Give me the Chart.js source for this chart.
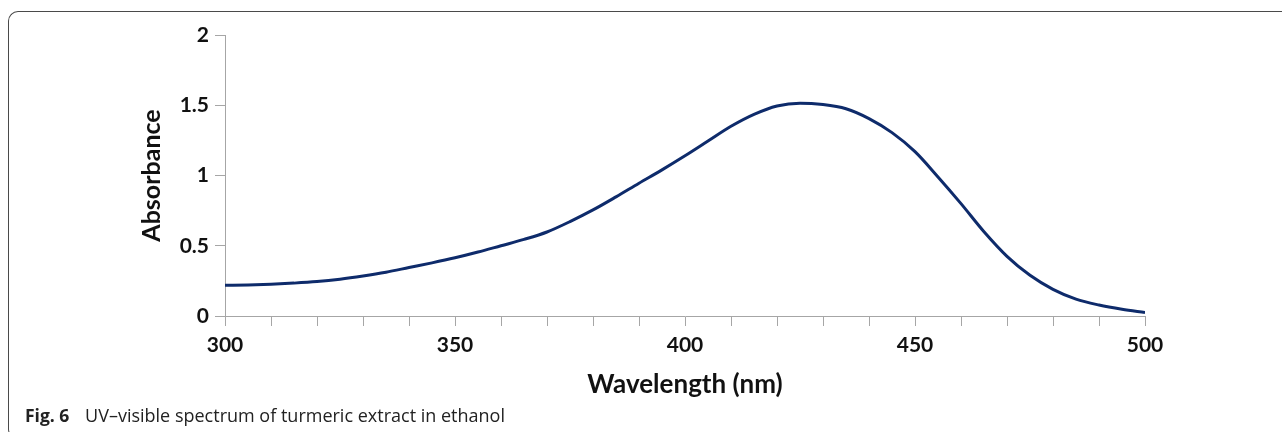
<!DOCTYPE html>
<html>
<head>
<meta charset="utf-8">
<script src="https://cdn.jsdelivr.net/npm/chart.js@4"></script>
<style>
    html, body { margin: 0; padding: 0; background: #fff; overflow: hidden; }
    body { width: 1282px; height: 432px; position: relative; }
    #frame {
        position: absolute; left: 8px; top: 11px; width: 1320px; height: 426px;
        border-top: 1.5px solid #4a4a4a; border-left: 1.5px solid #4a4a4a;
        border-bottom: 1.5px solid #4a4a4a;
        border-radius: 10px 0 0 10px;
    }
    #wrap { position: absolute; left: 0; top: 0; width: 1282px; height: 432px; }
    #caption {
        position: absolute; left: 25px; top: 403px;
        font-family: "Open Sans", sans-serif; font-size: 18px; color: #222;
        white-space: nowrap;
    }
    #caption b { font-size: 17.5px; margin-right: 11px; }
</style>
</head>
<body>
<div id="frame"></div>
<div id="wrap"><canvas id="spectrum"></canvas></div>
<div id="caption"><b>Fig. 6</b> UV–visible spectrum of turmeric extract in ethanol</div>
<script>
// wavelength (nm) and absorbance
const wavelengths = [300, 305, 310, 315, 320, 325, 330, 335, 340, 345, 350, 355, 360, 365, 370,
    375, 380, 385, 390, 395, 400, 405, 410, 415, 420, 425, 430, 435, 440, 445, 450,
    455, 460, 465, 470, 475, 480, 485, 490, 495, 500];
const absorbance = [0.218, 0.221, 0.226, 0.234, 0.245, 0.262, 0.285, 0.312, 0.345, 0.378, 0.414,
    0.455, 0.5, 0.545, 0.598, 0.672, 0.755, 0.848, 0.945, 1.04, 1.14, 1.245, 1.35, 1.435,
    1.495, 1.515, 1.505, 1.475, 1.405, 1.305, 1.17, 0.99, 0.8, 0.6, 0.425, 0.29, 0.19, 0.12,
    0.078, 0.048, 0.025];
const xTickLabels = [300, 350, 400, 450, 500];
const yTickLabels = [0, 0.5, 1, 1.5, 2];

const axisColor = '#a6a6a6';
const tickFont = { family: 'Lato', size: 21, weight: 'bold' };
const titleFont = { family: 'Lato', size: 25, weight: 'bold' };

const points = wavelengths.map((w, i) => ({ x: w, y: absorbance[i] }));

new Chart(document.getElementById('spectrum'), {
    type: 'line',
    data: {
        datasets: [{
            data: points,
            borderColor: '#0e2b6b',
            borderWidth: 3,
            pointRadius: 0,
            cubicInterpolationMode: 'monotone',
            fill: false
        }]
    },
    options: {
        responsive: true,
        maintainAspectRatio: false,
        animation: false,
        layout: { padding: { left: 130, top: 35, right: 137, bottom: 16 } },
        plugins: { legend: { display: false }, tooltip: { enabled: false } },
        scales: {
            x: {
                type: 'linear',
                min: 300,
                max: 500,
                afterFit: s => { s.height = 100; },
                border: { color: axisColor, width: 1 },
                grid: { drawOnChartArea: false, tickLength: 10, color: axisColor },
                ticks: {
                    stepSize: 10,
                    autoSkip: false,
                    maxRotation: 0,
                    padding: 7,
                    color: '#111',
                    font: tickFont,
                    callback: v => xTickLabels.includes(v) ? String(v) : ''
                },
                title: {
                    display: true,
                    text: 'Wavelength (nm)',
                    color: '#111',
                    font: { family: 'Lato', size: 26, weight: 'bold' },
                    padding: { top: 0, bottom: 16 }
                }
            },
            y: {
                min: 0,
                max: 2,
                afterFit: s => { s.width = 95; },
                border: { color: axisColor, width: 1 },
                grid: { drawOnChartArea: false, tickLength: 10, color: axisColor },
                ticks: {
                    stepSize: 0.5,
                    padding: 6,
                    color: '#111',
                    font: tickFont,
                    callback: v => yTickLabels.includes(v) ? String(v) : ''
                },
                title: {
                    display: true,
                    text: 'Absorbance',
                    color: '#111',
                    font: titleFont,
                    padding: { top: 7, bottom: 0 }
                }
            }
        }
    }
});
</script>
</body>
</html>
